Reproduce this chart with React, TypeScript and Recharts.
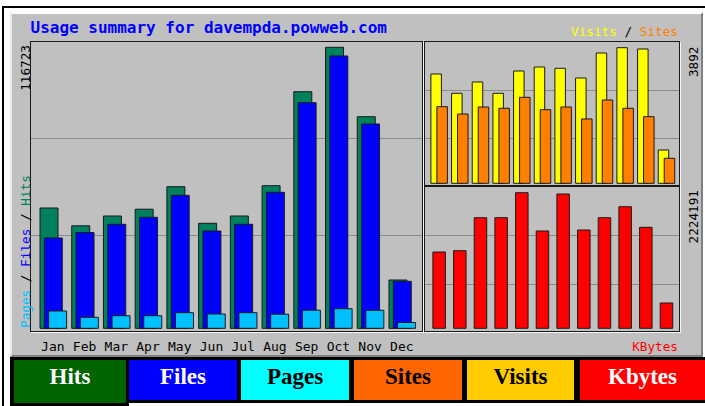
import { BarChart, Bar, XAxis, YAxis } from 'recharts'

// monthly totals
const months = ['Jan', 'Feb', 'Mar', 'Apr', 'May', 'Jun', 'Jul', 'Aug', 'Sep', 'Oct', 'Nov', 'Dec']
const hits = [49970, 42580, 46650, 49470, 58820, 43620, 46650, 59230, 98280, 116723, 87900, 20060]
const files = [37510, 39790, 43200, 46110, 55250, 40420, 43200, 56490, 93710, 113110, 84860, 19520]
const pages = [7190, 4570, 5230, 5230, 6480, 5940, 6480, 5860, 7520, 8140, 7480, 2410]
const visits = [3137, 2583, 2908, 2583, 3223, 3338, 3301, 3022, 3740, 3892, 3855, 956]
const sites = [2199, 1989, 2190, 2153, 2468, 2113, 2190, 1846, 2391, 2153, 1912, 718]
const kbytes = [1251500, 1272800, 1814100, 1814100, 2224191, 1596000, 2202900, 1612400, 1814000, 1994600, 1656700, 415000]

const maxHits = 116723
const maxVisits = 3892
const maxKbytes = 2224191

const legend = [
  { label: 'Hits', bg: '#006400', color: '#fff', left: 14, width: 112, height: 43 },
  { label: 'Files', bg: '#0000ff', color: '#fff', left: 129, width: 108, height: 40 },
  { label: 'Pages', bg: '#00ffff', color: '#000', left: 241, width: 108, height: 40 },
  { label: 'Sites', bg: '#ff6600', color: '#000', left: 354, width: 108, height: 40 },
  { label: 'Visits', bg: '#ffcc00', color: '#000', left: 467, width: 107, height: 40 },
  { label: 'Kbytes', bg: '#ff0000', color: '#fff', left: 580, width: 125, height: 40 },
]

const data = months.map((month, i) => ({
  month,
  hits: hits[i],
  files: files[i],
  pages: pages[i],
  visits: visits[i],
  sites: sites[i],
  kbytes: kbytes[i],
}))

const W = 705
const H = 406
const mono = '"DejaVu Sans Mono", "Liberation Mono", monospace'
const serif = '"Liberation Serif", "DejaVu Serif", serif'
const outline = '#1a1a1a'

const abs = (left: number, top: number, width: number, height: number): React.CSSProperties => ({
  position: 'absolute', left, top, width, height,
})

function Frame({ left, top, width, height, lines }: { left: number; top: number; width: number; height: number; lines: number[] }) {
  return (
    <div style={{ ...abs(left, top, width, height), boxSizing: 'border-box', border: `1px solid ${outline}`, boxShadow: '1px 1px 0 #f4f4f4' }}>
      {lines.map(y => (
        <div key={y} style={{ position: 'absolute', left: 0, right: 0, top: y - top - 1, height: 1, background: '#8c8c8c' }} />
      ))}
    </div>
  )
}

export default function App() {
  return (
    <div style={{ ...abs(0, 0, W, H), background: '#fff', overflow: 'hidden' }}>
      {/* page edges */}
      <div style={{ ...abs(2, 6, W - 2, 2), background: '#000' }} />
      <div style={{ ...abs(2, 6, 2, H - 6), background: '#000' }} />

      {/* gray graph panel */}
      <div style={{
        ...abs(10, 12, 693, 345), boxSizing: 'border-box', background: '#c0c0c0',
        borderTop: '2px solid #fff', borderLeft: '2px solid #e8e8e8',
        borderRight: '2px solid #808080', borderBottom: '2px solid #808080',
      }} />

      <Frame left={30} top={41} width={393} height={291} lines={[138, 235]} />
      <Frame left={424} top={41} width={256} height={145} lines={[90, 138]} />
      <Frame left={424} top={186} width={256} height={146} lines={[235, 284]} />

      {/* hits / files / pages */}
      <div style={abs(0, 0, W, H)}>
        <BarChart width={W} height={H} data={data} margin={{ top: 47.3, right: 287.3, bottom: 47.7, left: 37 }} barSize={18} barGap={-13.7}>
          <XAxis
            dataKey="month"
            height={30}
            interval={0}
            axisLine={false}
            tickLine={false}
            tickSize={0}
            tickMargin={13.5}
            tick={{ fontFamily: mono, fontSize: 13, fill: '#000' }}
          />
          <YAxis hide domain={[0, maxHits]} />
          <Bar dataKey="hits" fill="#00805c" stroke={outline} isAnimationActive={false} />
          <Bar dataKey="files" fill="#0000ff" stroke={outline} isAnimationActive={false} />
          <Bar dataKey="pages" fill="#00c0ff" stroke={outline} isAnimationActive={false} />
        </BarChart>
      </div>

      {/* visits / sites */}
      <div style={abs(0, 0, W, H)}>
        <BarChart width={W} height={H} data={data} margin={{ top: 47.7, right: 28.1, bottom: 222.7, left: 428.9 }} barSize={10.5} barGap={-4.5}>
          <XAxis dataKey="month" hide />
          <YAxis hide domain={[0, maxVisits]} />
          <Bar dataKey="visits" fill="#ffff00" stroke={outline} isAnimationActive={false} />
          <Bar dataKey="sites" fill="#ff8000" stroke={outline} isAnimationActive={false} />
        </BarChart>
      </div>

      {/* kbytes */}
      <div style={abs(0, 0, W, H)}>
        <BarChart width={W} height={H} data={data} margin={{ top: 192.7, right: 28.1, bottom: 77.7, left: 428.9 }} barSize={12.5}>
          <XAxis dataKey="month" hide />
          <YAxis hide domain={[0, maxKbytes]} />
          <Bar dataKey="kbytes" fill="#ff0000" stroke={outline} isAnimationActive={false} />
        </BarChart>
      </div>

      {/* titles and axis captions */}
      <svg width={W} height={H} style={{ position: 'absolute', left: 0, top: 0, pointerEvents: 'none' }}>
        <text x={30.5} y={33} fontFamily={mono} fontWeight="bold" fontSize={16} fill="#0000ff">
          Usage summary for davempda.powweb.com
        </text>
        <text x={678} y={35.5} textAnchor="end" fontFamily={mono} fontSize={12.7}>
          <tspan fill="#ffff00">Visits</tspan>
          <tspan fill="#000"> / </tspan>
          <tspan fill="#ff8000">Sites</tspan>
        </text>
        <text x={678} y={351} textAnchor="end" fontFamily={mono} fontSize={12.7} fill="#ff0000">KBytes</text>
        <text transform="translate(29.5,45) rotate(-90)" textAnchor="end" fontFamily={mono} fontSize={12.7} fill="#000">
          {String(maxHits)}
        </text>
        <text transform="translate(29.5,328) rotate(-90)" fontFamily={mono} fontSize={12.7}>
          <tspan fill="#00c0ff">Pages</tspan>
          <tspan fill="#000"> / </tspan>
          <tspan fill="#0000ff">Files</tspan>
          <tspan fill="#000"> / </tspan>
          <tspan fill="#00805c">Hits</tspan>
        </text>
        <text transform="translate(697.5,46.5) rotate(-90)" textAnchor="end" fontFamily={mono} fontSize={12.7} fill="#000">
          {String(maxVisits)}
        </text>
        <text transform="translate(697.5,190) rotate(-90)" textAnchor="end" fontFamily={mono} fontSize={12.7} fill="#000">
          {String(maxKbytes)}
        </text>
      </svg>

      {/* colour key row */}
      <div style={{ ...abs(10, 357, W - 10, 46), background: '#000' }} />
      <div style={{ ...abs(10, 403, 119, 3), background: '#000' }} />
      {legend.map(l => (
        <div key={l.label} style={{
          ...abs(l.left, 360, l.width, l.height), background: l.bg, color: l.color,
          fontFamily: serif, fontWeight: 'bold', fontSize: 23, lineHeight: '34px', textAlign: 'center',
        }}>
          {l.label}
        </div>
      ))}
    </div>
  )
}
